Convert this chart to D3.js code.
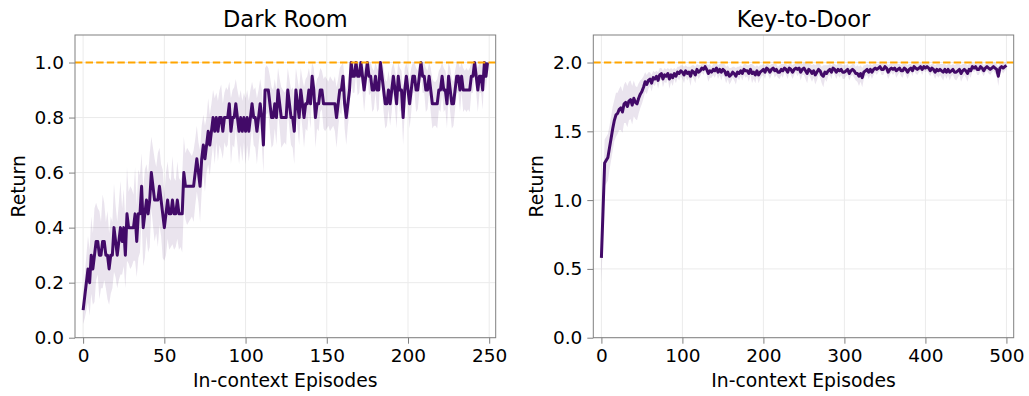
<!DOCTYPE html>
<html>
<head>
<meta charset="utf-8">
<script src="https://cdn.jsdelivr.net/npm/d3@7"></script>
<style>
  html, body { margin: 0; padding: 0; background: #fff; }
  svg { display: block; font-family: "DejaVu Sans", sans-serif; }
</style>
</head>
<body>
<svg id="chart" width="1029" height="396"></svg>
<script>
// ---------- Data ----------
const panelTitles = ["Dark Room", "Key-to-Door"];
const xAxisLabel = "In-context Episodes";
const yAxisLabel = "Return";

// Dark Room: episodes 0..249
const darkRoomMean = [
  0.10,0.15,0.20,0.25,0.20,0.30,0.25,0.30,0.35,0.35,
  0.30,0.30,0.35,0.35,0.30,0.30,0.25,0.30,0.30,0.40,
  0.35,0.30,0.35,0.40,0.35,0.40,0.30,0.45,0.40,0.40,
  0.40,0.40,0.45,0.35,0.45,0.45,0.55,0.40,0.45,0.50,
  0.45,0.50,0.60,0.55,0.50,0.50,0.50,0.55,0.50,0.45,
  0.40,0.45,0.50,0.45,0.45,0.50,0.45,0.45,0.50,0.45,
  0.45,0.45,0.60,0.55,0.55,0.55,0.55,0.55,0.55,0.60,
  0.65,0.60,0.55,0.65,0.70,0.65,0.70,0.75,0.70,0.75,
  0.80,0.75,0.80,0.75,0.80,0.80,0.75,0.80,0.80,0.80,
  0.85,0.75,0.80,0.80,0.85,0.80,0.75,0.80,0.75,0.80,
  0.75,0.80,0.75,0.80,0.85,0.80,0.80,0.75,0.80,0.85,
  0.80,0.70,0.90,0.90,0.90,0.85,0.80,0.80,0.85,0.80,
  0.90,0.85,0.80,0.80,0.80,0.80,0.90,0.85,0.80,0.80,
  0.75,0.90,0.85,0.80,0.90,0.85,0.80,0.85,0.85,0.90,
  0.85,0.95,0.90,0.80,0.85,0.85,0.90,0.90,0.85,0.85,
  0.85,0.85,0.85,0.85,0.85,0.85,0.80,0.85,0.90,0.90,
  0.95,0.85,0.80,0.85,0.90,1.00,0.95,0.95,1.00,0.95,
  0.95,1.00,0.95,0.90,0.95,1.00,0.95,0.95,0.90,0.90,
  0.95,0.90,0.90,1.00,0.95,0.90,0.85,0.85,0.90,0.85,
  0.90,0.95,0.90,0.85,0.95,0.90,0.90,0.80,0.90,0.95,
  0.90,0.85,0.90,0.95,0.95,0.90,0.90,0.95,1.00,0.95,
  0.95,0.90,0.90,0.95,0.90,0.85,0.85,0.85,0.85,0.90,
  0.90,0.95,0.90,0.90,0.85,0.95,0.90,0.85,0.85,0.90,
  0.95,0.95,0.90,0.95,0.90,0.90,0.90,0.90,0.90,0.95,
  0.95,1.00,0.95,0.90,0.95,0.95,0.90,1.00,0.95,1.00
];
const darkRoomSpread = [
  0.05,0.08,0.10,0.12,0.12,0.14,0.13,0.17,0.14,0.12,
  0.16,0.12,0.17,0.14,0.12,0.16,0.13,0.14,0.12,0.16,
  0.13,0.12,0.14,0.17,0.12,0.14,0.12,0.17,0.13,0.15,
  0.14,0.12,0.17,0.13,0.16,0.14,0.12,0.14,0.16,0.13,
  0.14,0.17,0.13,0.14,0.15,0.12,0.17,0.14,0.13,0.16,
  0.12,0.15,0.14,0.13,0.12,0.16,0.13,0.12,0.14,0.13,
  0.12,0.14,0.13,0.12,0.14,0.13,0.12,0.11,0.13,0.12,
  0.12,0.11,0.13,0.12,0.11,0.12,0.10,0.12,0.11,0.10,
  0.10,0.12,0.09,0.11,0.10,0.12,0.10,0.09,0.11,0.10,
  0.08,0.12,0.10,0.11,0.09,0.10,0.12,0.10,0.11,0.09,
  0.12,0.10,0.11,0.10,0.08,0.10,0.11,0.12,0.10,0.09,
  0.10,0.10,0.08,0.09,0.08,0.10,0.11,0.10,0.09,0.10,
  0.08,0.09,0.11,0.10,0.09,0.10,0.08,0.09,0.10,0.11,
  0.12,0.08,0.09,0.10,0.08,0.09,0.11,0.09,0.10,0.08,
  0.09,0.06,0.08,0.11,0.09,0.10,0.08,0.07,0.09,0.10,
  0.09,0.08,0.10,0.09,0.08,0.10,0.11,0.09,0.08,0.09,
  0.07,0.09,0.10,0.08,0.08,0.04,0.06,0.06,0.04,0.07,
  0.06,0.04,0.06,0.08,0.06,0.04,0.07,0.06,0.08,0.07,
  0.06,0.08,0.07,0.04,0.06,0.08,0.09,0.08,0.07,0.08,
  0.08,0.06,0.07,0.09,0.06,0.08,0.07,0.10,0.08,0.06,
  0.07,0.09,0.08,0.06,0.06,0.08,0.07,0.06,0.04,0.06,
  0.06,0.08,0.07,0.06,0.08,0.09,0.08,0.08,0.09,0.07,
  0.08,0.06,0.08,0.07,0.09,0.06,0.08,0.09,0.08,0.07,
  0.06,0.06,0.08,0.06,0.08,0.07,0.08,0.07,0.08,0.06,
  0.06,0.04,0.06,0.08,0.06,0.06,0.07,0.04,0.05,0.04
];

// Key-to-Door: episodes 0..500, every 2nd episode
const keyToDoorEpisodes = d3.range(0, 501, 2);
const keyToDoorMean = [
  0.58,0.92,1.27,1.29,1.31,1.38,1.45,1.52,1.58,1.62,
  1.63,1.66,1.67,1.64,1.70,1.71,1.68,1.72,1.73,1.69,
  1.74,1.71,1.70,1.74,1.77,1.79,1.82,1.86,1.84,1.87,
  1.88,1.85,1.89,1.88,1.90,1.87,1.91,1.92,1.88,1.91,
  1.90,1.92,1.88,1.91,1.89,1.92,1.90,1.93,1.92,1.94,
  1.93,1.91,1.94,1.92,1.93,1.90,1.94,1.93,1.91,1.95,
  1.93,1.94,1.96,1.95,1.97,1.95,1.92,1.94,1.93,1.95,
  1.94,1.96,1.93,1.95,1.93,1.95,1.94,1.91,1.93,1.90,
  1.91,1.93,1.92,1.90,1.93,1.92,1.94,1.92,1.95,1.94,
  1.94,1.92,1.95,1.92,1.93,1.91,1.94,1.91,1.93,1.94,
  1.95,1.93,1.96,1.95,1.93,1.95,1.96,1.94,1.95,1.93,
  1.93,1.95,1.94,1.96,1.95,1.93,1.96,1.95,1.93,1.95,
  1.96,1.95,1.96,1.93,1.95,1.96,1.94,1.92,1.95,1.94,
  1.92,1.94,1.91,1.93,1.95,1.94,1.91,1.90,1.93,1.92,
  1.94,1.95,1.93,1.96,1.95,1.93,1.95,1.94,1.95,1.93,
  1.93,1.94,1.95,1.92,1.94,1.95,1.94,1.92,1.92,1.90,
  1.92,1.89,1.93,1.94,1.95,1.93,1.95,1.93,1.95,1.96,
  1.95,1.96,1.97,1.95,1.95,1.97,1.96,1.93,1.95,1.96,
  1.95,1.96,1.94,1.95,1.96,1.94,1.94,1.96,1.95,1.93,
  1.95,1.96,1.94,1.97,1.96,1.95,1.96,1.97,1.95,1.97,
  1.96,1.97,1.96,1.94,1.96,1.95,1.93,1.95,1.94,1.95,
  1.94,1.93,1.95,1.93,1.95,1.93,1.94,1.95,1.93,1.93,
  1.94,1.95,1.92,1.94,1.95,1.94,1.92,1.95,1.94,1.97,
  1.96,1.97,1.95,1.95,1.97,1.96,1.94,1.96,1.97,1.96,
  1.95,1.96,1.97,1.96,1.95,1.90,1.96,1.97,1.96,1.97,
  1.98
];
const keyToDoorSpread = [
  0.18,0.18,0.17,0.17,0.17,0.16,0.16,0.16,0.15,0.16,
  0.15,0.15,0.16,0.15,0.14,0.15,0.15,0.14,0.14,0.14,
  0.13,0.12,0.12,0.11,0.10,0.09,0.08,0.07,0.07,0.06,
  0.05,0.06,0.05,0.05,0.04,0.06,0.05,0.04,0.06,0.05,
  0.05,0.04,0.07,0.05,0.06,0.04,0.05,0.04,0.05,0.04,
  0.05,0.06,0.04,0.05,0.04,0.07,0.04,0.05,0.06,0.04,
  0.05,0.04,0.03,0.04,0.03,0.04,0.06,0.05,0.04,0.04,
  0.05,0.04,0.05,0.04,0.06,0.04,0.05,0.06,0.05,0.06,
  0.05,0.04,0.05,0.06,0.04,0.05,0.04,0.05,0.04,0.05,
  0.04,0.06,0.04,0.07,0.05,0.06,0.04,0.06,0.05,0.04,
  0.04,0.05,0.03,0.04,0.05,0.04,0.03,0.05,0.04,0.04,
  0.05,0.04,0.05,0.03,0.04,0.05,0.03,0.04,0.05,0.04,
  0.03,0.05,0.04,0.06,0.04,0.05,0.06,0.07,0.04,0.05,
  0.06,0.05,0.07,0.06,0.04,0.05,0.06,0.08,0.05,0.06,
  0.04,0.04,0.05,0.03,0.04,0.05,0.04,0.05,0.04,0.05,
  0.05,0.04,0.04,0.05,0.04,0.04,0.05,0.05,0.06,0.07,
  0.06,0.07,0.05,0.04,0.04,0.05,0.04,0.05,0.04,0.03,
  0.04,0.03,0.03,0.04,0.04,0.03,0.04,0.05,0.04,0.03,
  0.04,0.03,0.05,0.04,0.03,0.04,0.05,0.03,0.04,0.05,
  0.04,0.03,0.04,0.03,0.04,0.04,0.03,0.03,0.04,0.03,
  0.03,0.03,0.04,0.04,0.03,0.04,0.05,0.04,0.05,0.04,
  0.05,0.06,0.04,0.05,0.04,0.06,0.04,0.04,0.05,0.06,
  0.05,0.04,0.06,0.05,0.04,0.05,0.06,0.04,0.05,0.03,
  0.03,0.03,0.04,0.04,0.03,0.04,0.04,0.03,0.03,0.04,
  0.04,0.03,0.03,0.04,0.04,0.07,0.04,0.03,0.04,0.03,
  0.03
];

const darkRoomXTicks = [0, 50, 100, 150, 200, 250];
const darkRoomYTicks = [0.0, 0.2, 0.4, 0.6, 0.8, 1.0];
const keyToDoorXTicks = [0, 100, 200, 300, 400, 500];
const keyToDoorYTicks = [0.0, 0.5, 1.0, 1.5, 2.0];
const optimalReturns = [1.0, 2.0];

// ---------- Drawing ----------
const svg = d3.select("#chart");
const lineColor = "#420a68";

const panels = [
  {
    title: panelTitles[0],
    x: d3.range(darkRoomMean.length),
    mean: darkRoomMean, spread: darkRoomSpread,
    xDomain: [-5, 254], yDomain: [0, 1.1],
    xTicks: darkRoomXTicks, yTicks: darkRoomYTicks, yFmt: d3.format(".1f"),
    optimal: optimalReturns[0],
    left: 75, right: 495.7, top: 35, bottom: 337.7, yLabelX: 19
  },
  {
    title: panelTitles[1],
    x: keyToDoorEpisodes,
    mean: keyToDoorMean, spread: keyToDoorSpread,
    xDomain: [-10, 509], yDomain: [0, 2.2],
    xTicks: keyToDoorXTicks, yTicks: keyToDoorYTicks, yFmt: d3.format(".1f"),
    optimal: optimalReturns[1],
    left: 593.3, right: 1013.7, top: 35, bottom: 337.7, yLabelX: 537
  }
];

panels.forEach(p => {
  const xs = d3.scaleLinear().domain(p.xDomain).range([p.left, p.right]);
  const ys = d3.scaleLinear().domain(p.yDomain).range([p.bottom, p.top]);
  const g = svg.append("g");

  // grid
  g.append("g").selectAll("line").data(p.xTicks).join("line")
    .attr("x1", d => xs(d)).attr("x2", d => xs(d))
    .attr("y1", p.top).attr("y2", p.bottom)
    .attr("stroke", "#ebebeb").attr("stroke-width", 1);
  g.append("g").selectAll("line").data(p.yTicks).join("line")
    .attr("x1", p.left).attr("x2", p.right)
    .attr("y1", d => ys(d)).attr("y2", d => ys(d))
    .attr("stroke", "#ebebeb").attr("stroke-width", 1);

  const pts = p.x.map((xv, i) => ({ x: xv, m: p.mean[i], s: p.spread[i] }));
  const cap = p.optimal;

  // band
  const area = d3.area()
    .x(d => xs(d.x))
    .y0(d => ys(d.m - d.s))
    .y1(d => ys(Math.min(cap, d.m + d.s)));
  g.append("path").datum(pts).attr("d", area)
    .attr("fill", lineColor).attr("fill-opacity", 0.11).attr("stroke", "none");

  // mean line
  const line = d3.line().x(d => xs(d.x)).y(d => ys(d.m));
  g.append("path").datum(pts).attr("d", line)
    .attr("fill", "none").attr("stroke", lineColor)
    .attr("stroke-width", 3).attr("stroke-linejoin", "round");

  // optimal dashed
  g.append("line")
    .attr("x1", p.left).attr("x2", p.right)
    .attr("y1", ys(p.optimal)).attr("y2", ys(p.optimal))
    .attr("stroke", "#ffa500").attr("stroke-width", 2)
    .attr("stroke-dasharray", "7.4,3.2");

  // axes
  const xAxis = d3.axisBottom(xs).tickValues(p.xTicks).tickSize(6).tickPadding(5).tickFormat(d3.format("d"));
  const yAxis = d3.axisLeft(ys).tickValues(p.yTicks).tickSize(6).tickPadding(5).tickFormat(p.yFmt);
  const gx = g.append("g").attr("transform", `translate(0,${p.bottom})`).call(xAxis);
  const gy = g.append("g").attr("transform", `translate(${p.left},0)`).call(yAxis);
  [gx, gy].forEach(a => {
    a.select(".domain").remove();
    a.selectAll(".tick line").attr("stroke", "#808080").attr("stroke-width", 1);
    a.selectAll(".tick text").attr("fill", "#000").style("font-size", "18.5px")
      .style("font-family", "DejaVu Sans, sans-serif");
  });

  // spines
  g.append("rect")
    .attr("x", p.left).attr("y", p.top)
    .attr("width", p.right - p.left).attr("height", p.bottom - p.top)
    .attr("fill", "none").attr("stroke", "#808080").attr("stroke-width", 1);

  // title
  g.append("text")
    .attr("x", (p.left + p.right) / 2).attr("y", 27)
    .attr("text-anchor", "middle").style("font-size", "22.5px").attr("fill", "#000")
    .text(p.title);

  // x label
  g.append("text")
    .attr("x", (p.left + p.right) / 2).attr("y", 387)
    .attr("text-anchor", "middle").style("font-size", "18.8px").attr("fill", "#000")
    .text(xAxisLabel);

  // y label
  g.append("text")
    .attr("transform", `translate(${p.yLabelX + 6},${(p.top + p.bottom) / 2}) rotate(-90)`)
    .attr("text-anchor", "middle").style("font-size", "18.8px").attr("fill", "#000")
    .text(yAxisLabel);
});
</script>
</body>
</html>
